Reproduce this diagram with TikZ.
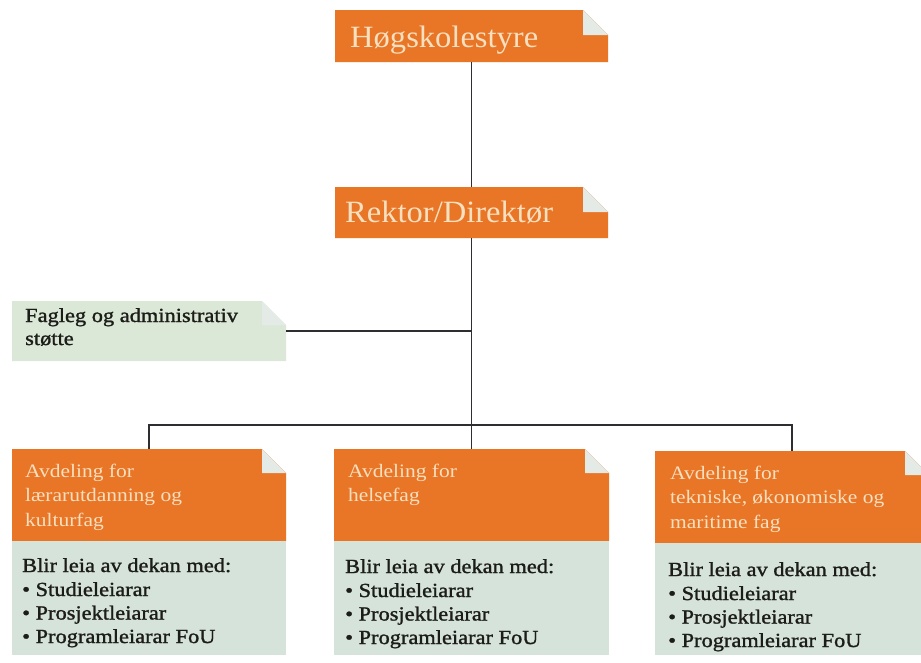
\documentclass[tikz,border=0pt]{standalone}
\usepackage{fontspec}
\setmainfont{Liberation Serif}
\newfontfamily\titlefont[FakeStretch=1.05]{Liberation Serif}
\newfontfamily\headfont[FakeStretch=1.13]{Liberation Serif}
\newfontfamily\bodyfont[FakeStretch=1.12,FakeBold=1.3]{Liberation Serif}

\definecolor{orangec}{RGB}{233,117,38}
\definecolor{creamc}{RGB}{247,224,192}
\definecolor{panelc}{RGB}{214,227,218}
\definecolor{supportc}{RGB}{219,232,215}
\definecolor{earc}{RGB}{228,234,230}
\definecolor{inkc}{RGB}{28,28,24}
\definecolor{linec}{RGB}{45,45,50}

\tikzset{
  slot/.style={rectangle, inner sep=0pt, outer sep=0pt},
  link/.style={draw=linec, line width=1.7pt},
  titletext/.style={anchor=base west, inner sep=0pt, text=creamc,
    font=\titlefont\fontsize{31}{31}\selectfont},
  headtext/.style={anchor=base west, inner sep=0pt, text=creamc,
    font=\headfont\fontsize{19}{19}\selectfont},
  bodytext/.style={anchor=base west, inner sep=0pt, text=inkc,
    font=\bodyfont\fontsize{20}{20}\selectfont},
}

% filled box with a folded top-right corner
\newcommand\dogearbox[3]{%
  \fill[#2] (#1.south west) -- (#1.north west) -- ([xshift=-#3]#1.north east)
    -- ([yshift=-#3]#1.north east) -- (#1.south east) -- cycle;
  \fill[earc] ([xshift=-#3]#1.north east) -- ([xshift=-#3,yshift=-#3]#1.north east)
    -- ([yshift=-#3]#1.north east) -- cycle;
}

\begin{document}
\begin{tikzpicture}[x=1pt,y=-1pt]
\clip (0,0) rectangle (921,662);
\fill[white] (0,0) rectangle (921,662);

% box outlines (named slots)
\node[slot, minimum width=273pt, minimum height=52pt] (hs) at (471.5,36) {};
\node[slot, minimum width=273pt, minimum height=51pt] (rd) at (471.5,212.5) {};
\node[slot, minimum width=274pt, minimum height=60pt] (fa) at (149,331) {};

\node[slot, minimum width=274pt, minimum height=92pt] (b1h) at (149,495) {};
\node[slot, minimum width=274pt, minimum height=114pt] (b1b) at (149,598) {};
\node[slot, minimum width=275pt, minimum height=92pt] (b2h) at (471.5,495) {};
\node[slot, minimum width=275pt, minimum height=114pt] (b2b) at (471.5,598) {};
\node[slot, minimum width=274pt, minimum height=92pt] (b3h) at (792,497) {};
\node[slot, minimum width=274pt, minimum height=112pt] (b3b) at (792,599) {};

% fills
\dogearbox{hs}{orangec}{25pt}
\dogearbox{rd}{orangec}{25pt}
\dogearbox{fa}{supportc}{24pt}
\dogearbox{b1h}{orangec}{24pt}
\dogearbox{b2h}{orangec}{24pt}
\dogearbox{b3h}{orangec}{24pt}
\fill[panelc] (b1b.south west) rectangle (b1b.north east);
\fill[panelc] (b2b.south west) rectangle (b2b.north east);
\fill[panelc] (b3b.south west) rectangle (b3b.north east);

% connectors
\coordinate (bus) at (471.5,425);
\draw[link] (hs.south) -- (rd.north);
\draw[link] (rd.south) -- (b2h.north);
\draw[link] (fa.east) -- (fa.east -| rd.south);
\draw[link] (b1h.north) |- (bus) -| (b3h.north);

% titles
\node[titletext] (hst) at (350,47) {Høgskolestyre};
\node[titletext] (rdt) at (345,222) {Rektor/Direktør};

% support unit
\node[bodytext] (fa1) at (25,322) {Fagleg og administrativ};
\node[bodytext] (fa2) at (25,345) {støtte};

% department headings
\node[headtext] (h11) at (25,477) {Avdeling for};
\node[headtext] (h12) at (25,501.5) {lærarutdanning og};
\node[headtext] (h13) at (25,526) {kulturfag};
\node[headtext] (h21) at (348,477) {Avdeling for};
\node[headtext] (h22) at (348,501.5) {helsefag};
\node[headtext] (h31) at (670,479) {Avdeling for};
\node[headtext] (h32) at (670,503.5) {tekniske, økonomiske og};
\node[headtext] (h33) at (670,528) {maritime fag};

% department leadership
\foreach \n/\x/\y in {1/22/572, 2/345/573, 3/668/576}{
  \node[bodytext] (p\n a) at (\x,\y) {Blir leia av dekan med:};
  \node[bodytext] (p\n b) at (\x,\y+24) {• Studieleiarar};
  \node[bodytext] (p\n c) at (\x,\y+47.5) {• Prosjektleiarar};
  \node[bodytext] (p\n d) at (\x,\y+71) {• Programleiarar FoU};
}
\end{tikzpicture}
\end{document}
